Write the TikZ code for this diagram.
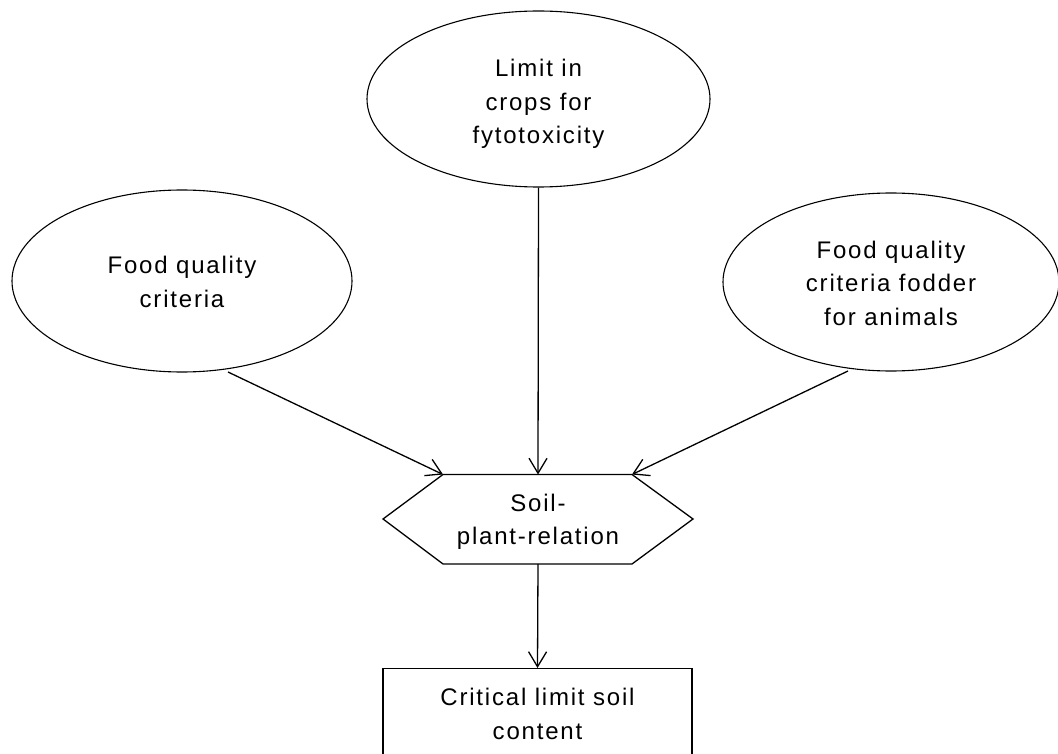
\documentclass[tikz,border=0pt]{standalone}
\usepackage{fontspec}
\setmainfont{Liberation Sans}[LetterSpace=7.5]
\usetikzlibrary{shapes.geometric,arrows.meta}
\begin{document}
\begin{tikzpicture}[x=1pt,y=-1pt,
  ell/.style={draw,ellipse,line width=1.1pt,inner sep=0pt},
  txt/.style={align=center,font=\fontsize{24}{33.5}\selectfont,inner sep=0pt},
  con/.style={line width=1.3pt,-{Straight Barb[length=15pt,width=18pt,line width=1.3pt]}},
  outline/.style={line width=1.3pt}]
\useasboundingbox (0,0) rectangle (1058,754);
% ellipses
\node[ell,minimum width=343pt,minimum height=176pt] (topE) at (538.5,99) {};
\node[txt] (topT) at (538.5,104) {Limit in\\crops for\\fytotoxicity};
\node[ell,minimum width=340pt,minimum height=182pt] (leftE) at (182,281) {};
\node[txt] (leftT) at (182,282) {Food quality\\criteria};
\node[ell,minimum width=336pt,minimum height=178pt] (rightE) at (891,282) {};
\node[txt] (rightT) at (891,283) {Food quality\\criteria fodder\\for animals};
% hexagon
\coordinate (hL) at (383,519);
\coordinate (hTL) at (443,474.5);
\coordinate (hT) at (538,474.5);
\coordinate (hTR) at (632,474.5);
\coordinate (hR) at (693,519);
\coordinate (hBR) at (632,564);
\coordinate (hB) at (538,564);
\coordinate (hBL) at (443,564);
\draw[outline] (hL) -- (hTL) -- (hTR) -- (hR) -- (hBR) -- (hBL) -- cycle;
\node[txt] (hexT) at (538,522) {Soil-\\plant-relation};
% box
\node[draw,outline,minimum width=309pt,minimum height=140pt,anchor=north,inner sep=0pt] (box) at (537.5,668) {};
\node[txt] (boxT) at (537.5,714) {Critical limit soil\\content};
% connectors
\coordinate (lS) at (228,372);
\coordinate (rS) at (848,371);
\draw[con] (topE.south) -- (hT);
\draw[con] (lS) -- (hTL);
\draw[con] (rS) -- (hTR);
\draw[con] (hB) -- (box.north);
\end{tikzpicture}
\end{document}
